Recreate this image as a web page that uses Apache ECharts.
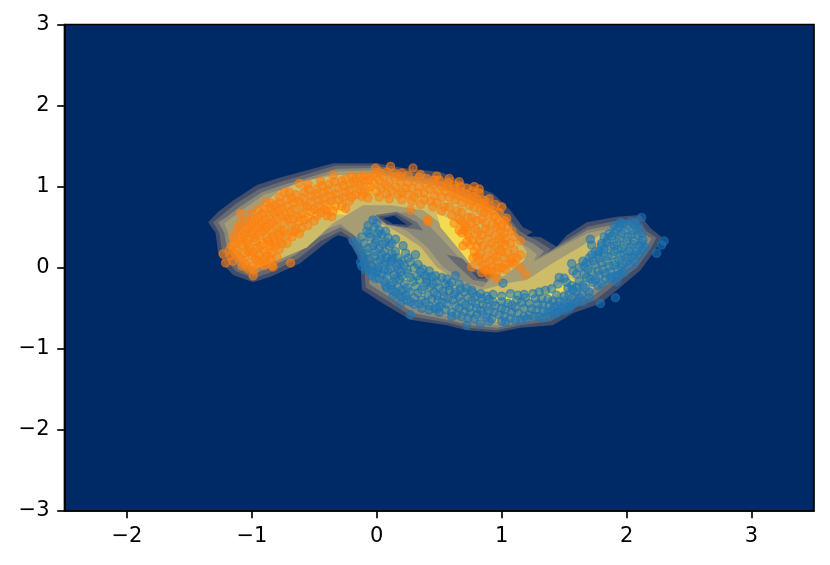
<!DOCTYPE html>
<html><head><meta charset="utf-8">
<script src="https://cdn.jsdelivr.net/npm/echarts@6/dist/echarts.min.js"></script>
<style>html,body{margin:0;padding:0;background:#fff}#c{width:830px;height:565px}</style></head>
<body><div id="c"></div>
<script>
const xTicks=[-2,-1,0,1,2,3];
const yTicks=[-3,-2,-1,0,1,2,3];
const level1=[[-1.35,.56],[-1.27,.69],[-1.15,.83],[-.96,1.02],[-.78,1.11],[-.61,1.18],[-.35,1.29],[0,1.29],[.21,1.23],[.51,1.18],[.75,1.02],[.93,.92],[1.07,.71],[1.17,.5],[1.25,.44],[1.19,.39],[1.31,.38],[1.44,.26],[1.41,.21],[1.52,.4],[1.68,.56],[1.92,.63],[2.11,.65],[2.19,.49],[2.28,.38],[2.23,.22],[2.11,-.03],[1.95,-.24],[1.79,-.44],[1.57,-.56],[1.41,-.71],[1.15,-.74],[.96,-.8],[.72,-.77],[.56,-.71],[.27,-.64],[.05,-.44],[-.12,-.27],[-.13,.07],[-.24,.37],[-.31,.4],[-.35,.37],[-.43,.28],[-.61,.06],[-.85,-.11],[-.99,-.18],[-1.15,-.09],[-1.21,.01],[-1.27,.18],[-1.29,.43]];
const level2=[[-1.31,.56],[-1.24,.65],[-1.13,.79],[-.94,.97],[-.75,1.07],[-.59,1.14],[-.33,1.26],[0,1.26],[.2,1.19],[.49,1.13],[.72,.97],[.9,.87],[1.03,.67],[1.14,.46],[1.21,.39],[1.28,.34],[1.39,.23],[1.35,.16],[1.51,.34],[1.69,.51],[1.92,.58],[2.08,.6],[2.16,.45],[2.24,.37],[2.19,.23],[2.08,0],[1.91,-.2],[1.75,-.4],[1.55,-.51],[1.39,-.66],[1.15,-.71],[.96,-.77],[.73,-.74],[.58,-.68],[.28,-.6],[.08,-.4],[-.09,-.24],[-.1,.07],[-.21,.37],[-.29,.45],[-.45,.33],[-.63,.11],[-.87,-.07],[-.99,-.13],[-1.13,-.04],[-1.18,.05],[-1.24,.21],[-1.26,.43]];
const level3=[[-1.27,.56],[-1.2,.63],[-1.1,.75],[-.92,.93],[-.73,1.03],[-.57,1.1],[-.32,1.22],[0,1.23],[.19,1.15],[.47,1.09],[.7,.93],[.87,.82],[1,.63],[1.11,.43],[1.18,.35],[1.25,.3],[1.34,.2],[1.29,.12],[1.5,.3],[1.69,.47],[1.92,.54],[2.05,.56],[2.13,.42],[2.2,.36],[2.15,.23],[2.05,.03],[1.88,-.16],[1.72,-.36],[1.53,-.47],[1.37,-.62],[1.15,-.68],[.96,-.74],[.74,-.71],[.59,-.65],[.3,-.56],[.1,-.36],[-.06,-.2],[-.06,.07],[-.18,.4],[-.29,.5],[-.46,.38],[-.65,.16],[-.89,-.02],[-.99,-.08],[-1.1,0],[-1.14,.09],[-1.2,.24],[-1.22,.43]];
const level4=[[-1.22,.55],[-1.16,.62],[-1.07,.72],[-.9,.9],[-.71,.99],[-.55,1.07],[-.31,1.19],[0,1.2],[.18,1.11],[.45,1.05],[.68,.89],[.84,.78],[.97,.6],[1.08,.4],[1.16,.3],[1.22,.24],[1.28,.17],[1.26,.08],[1.48,.26],[1.69,.43],[1.92,.5],[2.02,.52],[2.1,.4],[2.15,.35],[2.11,.23],[2.02,.06],[1.85,-.12],[1.69,-.32],[1.51,-.43],[1.35,-.57],[1.15,-.65],[.96,-.71],[.75,-.67],[.6,-.61],[.32,-.51],[.13,-.32],[-.03,-.16],[-.02,.07],[-.15,.36],[-.29,.54],[-.48,.43],[-.67,.21],[-.91,.03],[-.99,-.04],[-1.08,.02],[-1.11,.12],[-1.17,.27],[-1.19,.43]];
const valley3=[[.03,.65],[.27,.69],[.4,.55],[.53,.34],[.69,.07],[.96,-.05],[.85,-.24],[.72,-.19],[.53,.01],[.4,.26],[.24,.46],[.11,.53],[-.08,.61]];
const valley2=[[.56,.16],[.68,.12],[.76,0],[.91,-.09],[.88,-.18],[.77,-.15],[.64,.03]];
const valley1=[[.76,-.05],[.85,-.07],[.88,-.13],[.81,-.14]];
const hole2=[[-.01,.65],[.16,.69],[.32,.56],[.37,.46],[.24,.49],[.08,.53]];
const hole1=[[.01,.63],[.16,.66],[.29,.54],[.24,.5],[.08,.54]];
const hole0=[[.05,.61],[.14,.64],[.24,.53],[.13,.54]];
const orangeLevel5=[[-1.18,.26],[-1.15,.34],[-.96,.72],[-.78,.95],[-.61,1.06],[-.35,1.14],[0,1.16],[.21,1.08],[.51,1.0],[.72,.85],[.95,.7],[1.07,.5],[1.12,.36],[1.2,.2],[1.18,.09],[1.01,-.11],[.77,0],[.59,.38],[.51,.55],[.37,.71],[.11,.77],[-.11,.77],[-.35,.55],[-.56,.25],[-.85,.06],[-.97,-.01],[-1.08,.05]];
const blueLevel5=[[-.14,.42],[-.03,.58],[.1,.5],[.21,.4],[.35,.26],[.48,.01],[.72,-.25],[.85,-.27],[1.04,-.19],[1.2,-.15],[1.41,.06],[1.63,.26],[1.81,.43],[1.97,.5],[2.02,.5],[2.09,.37],[2.07,.22],[1.95,0],[1.82,-.18],[1.67,-.3],[1.5,-.4],[1.33,-.53],[1.15,-.61],[.96,-.67],[.75,-.63],[.6,-.57],[.33,-.46],[.15,-.28],[0,-.14],[-.02,.05],[-.1,.22]];
const peakA=[[-.72,.4],[-.59,.38],[-.69,.37]];
const peakB=[[-.63,.61],[-.51,.71],[-.48,.65],[-.62,.56]];
const peakC=[[-.43,.77],[-.29,.8],[-.24,.65],[-.37,.67]];
const peakD=[[-.09,1.04],[-.03,1.11],[0,.93],[-.07,.9]];
const peakE=[[-.95,.37],[-.88,.18],[-.8,.22]];
const peakF=[[.48,.67],[.61,.59],[.74,.45],[.82,.22],[.75,.05],[.64,.26],[.51,.5]];
const peakG=[[.18,.24],[.25,.18],[.33,-.09],[.42,-.27],[.35,-.32],[.24,-.2],[.15,.01]];
const peakH=[[.9,-.36],[1.09,-.31],[1.36,-.29],[1.55,-.13],[1.6,-.17],[1.42,-.36],[1.09,-.42],[.92,-.42]];
const peakI=[[1.8,.15],[1.88,.25],[2.0,.36],[2.02,.28],[1.9,.04],[1.82,.04]];
const bluePoints=[[2.12,.62],[2.3,.33],[2.28,.28],[2.24,.18],[1.91,-.37],[1.79,-.44],[1.71,.35],[1.56,.05],[.72,-.71],[.83,-.69],[.27,-.58],[.19,-.44],[1.01,-.19],[-.19,.33],[-.13,.07],[-.03,.59],[.21,.27],[.31,.16],[.63,-.1],[.44,-.11],[-.01,-.13],[.13,-.35],[.48,-.51],[1.03,-.67],[1.33,-.62],
[-.08,.45],[-.02,.5],[.02,.46],[-.05,.38],[0,.35],[.04,.41],[.07,.32],[-.1,.3],[-.03,.27],[.02,.24],[.06,.2],[.1,.27],[-.14,.22],[-.08,.18],[-.02,.14],[.03,.1],[.08,.13],[.12,.17],[-.1,.08],[-.04,.03],[.01,0],[.06,.04],[.11,.07],[.16,.02],[.2,.08],[-.03,-.05],[.04,-.08],[.09,-.04],[.14,-.09],[.19,-.05],[.24,-.02],[.27,.07],[.06,-.17],[.13,-.18],[.18,-.14],[.22,-.2],[.27,-.12],[.32,-.1],[.37,-.02],[.2,-.28],[.26,-.3],[.31,-.23],[.36,-.27],[.4,-.18],[.45,-.2],[.3,-.37],[.36,-.4],[.41,-.34],[.46,-.3],[.5,-.25],[.55,-.2],[.42,-.47],[.49,-.4],[.54,-.35],[.58,-.28],[.63,-.3],[.5,-.48],[.56,-.45],[.61,-.4],[.66,-.36],[.7,-.3],[.6,-.55],[.66,-.5],[.71,-.46],[.76,-.41],[.8,-.35],[.68,-.6],[.75,-.56],[.8,-.5],[.85,-.45],[.9,-.39],[.78,-.63],[.85,-.58],[.9,-.53],[.95,-.47],[1,-.42],[.92,-.63],[.98,-.58],[1.03,-.52],[1.08,-.46],[1.12,-.4],[1.07,-.62],[1.13,-.56],[1.18,-.5],[1.22,-.44],[1.27,-.38],[1.15,-.64],[1.22,-.58],[1.28,-.52],[1.33,-.46],[1.37,-.39],[1.3,-.6],[1.37,-.55],[1.42,-.48],[1.46,-.42],[1.5,-.35],[1.43,-.57],[1.48,-.5],[1.53,-.44],[1.57,-.36],[1.6,-.3],[1.54,-.5],[1.6,-.42],[1.64,-.33],[1.67,-.25],[1.7,-.3],[1.56,-.22],[1.62,-.17],[1.68,-.12],[1.73,-.18],[1.77,-.22],[1.72,-.05],[1.78,-.1],[1.83,-.14],[1.66,.02],[1.75,.04],[1.81,-.02],[1.87,-.05],[1.92,-.1],[1.7,.12],[1.78,.12],[1.84,.08],[1.9,.03],[1.96,0],[1.75,.2],[1.82,.18],[1.88,.15],[1.94,.1],[2,.07],[1.8,.27],[1.87,.26],[1.93,.22],[1.98,.17],[2.04,.13],[2.08,.2],[1.85,.36],[1.92,.32],[1.98,.28],[2.03,.25],[2.1,.27],[1.9,.43],[1.96,.42],[2.01,.38],[2.06,.33],[1.94,.5],[2,.52],[2.05,.46],[2.09,.4],[2.03,.57],[1.72,.28],
[-.06,.42],[.01,.42],[-.01,.31],[.05,.29],[-.07,.24],[-.01,.2],[.04,.16],[-.12,.15],[-.06,.11],[0,.07],[.07,.08],[.13,.12],[-.07,-.02],[.01,-.03],[.06,-.02],[.11,-.01],[.17,-.02],[.22,.03],[.08,-.11],[.15,-.13],[.2,-.1],[.25,-.07],[.11,-.22],[.17,-.24],[.24,-.25],[.29,-.17],[.34,-.15],[.39,-.1],[.23,-.34],[.33,-.31],[.38,-.23],[.43,-.24],[.48,-.17],[.34,-.45],[.39,-.43],[.44,-.39],[.48,-.34],[.53,-.29],[.58,-.22],[.46,-.5],[.52,-.43],[.57,-.38],[.62,-.33],[.67,-.26],[.55,-.52],[.63,-.47],[.68,-.42],[.73,-.37],[.77,-.31],[.64,-.58],[.7,-.54],[.74,-.49],[.79,-.44],[.84,-.38],[.73,-.62],[.8,-.58],[.83,-.53],[.88,-.48],[.93,-.42],[.88,-.61],[.94,-.55],[1,-.5],[1.05,-.44],[1.02,-.6],[1.08,-.55],[1.11,-.49],[1.16,-.43],[1.19,-.37],[1.11,-.65],[1.18,-.6],[1.24,-.51],[1.29,-.45],[1.32,-.38],[1.26,-.6],[1.33,-.53],[1.38,-.46],[1.41,-.41],[1.44,-.34],[1.4,-.53],[1.45,-.47],[1.5,-.41],[1.54,-.33],[1.57,-.27],[1.5,-.53],[1.57,-.45],[1.62,-.37],[1.65,-.22],[1.6,-.24],[1.53,-.25],[1.66,-.08],[1.71,-.14],[1.75,-.15],[1.8,-.2],[1.69,-.02],[1.77,-.04],[1.83,-.07],[1.88,-.11],[1.73,.08],[1.8,.06],[1.86,.02],[1.93,-.03],[1.77,.16],[1.85,.14],[1.91,.07],[1.97,.05],[1.82,.23],[1.9,.2],[1.95,.16],[2.01,.13],[1.84,.31],[1.9,.27],[1.96,.24],[2.02,.2],[2.06,.16],[1.88,.39],[1.94,.36],[2,.33],[2.05,.29],[1.92,.47],[1.98,.46],[2.04,.41],[1.97,.55],[2.07,.52],
[2.12,.3],[2.15,.25],[2.1,.16],[2.13,.34],[2.07,.07],[2.03,.03],[1.98,-.06],[1.92,-.17],[1.87,-.13],[1.95,-.08],[2.12,.42],[2.1,.5],[2.07,.57],[2.13,.22],[1.78,.2],[1.72,.16],[1.68,.06],[1.62,0],[1.57,-.04],[1.5,-.13],[1.45,-.2],[1.4,-.26],[1.8,.3],[1.86,.42],[1.82,.38],[1.9,.52],[1.95,.56],[1.65,.08],[1.6,-.08],[1.52,-.18],[1.46,-.12],[1.35,-.28],[1.3,-.3],[1.25,-.32],[1.18,-.33],[1.13,-.34],[1.07,-.32],[1,-.35],[.93,-.33],[.88,-.35],[.83,-.32],[1.2,-.63],[1,-.66],[.9,-.66],[.6,-.6],[.5,-.55],[.42,-.52],[.36,-.5],[.3,-.45],[.24,-.4],[.18,-.33],[.12,-.27],[.07,-.22],[1.38,-.6],[1.45,-.55],[1.55,-.48],[1.65,-.42],[1.7,-.37],[.3,0],[.33,.04],[.25,.12],[.35,-.05],[.42,-.04],[.47,-.1],[.52,-.12],[.4,-.13],[.56,-.14],[.6,-.18],[.66,-.2],[.72,-.25],[.76,-.28],[.15,.2],[.17,.12],[.23,.18],[.12,.3],[.09,.37],[.15,.35],[.07,.45],[-.07,.52],[0,.55],[-.12,.38],[-.16,.28],[-.12,.02],[-.09,-.03],[-.04,-.1],[.02,-.14],[0,-.05],[.08,-.25],[.15,-.3],[.2,-.36],[.27,-.42],[.12,.1],[.18,.05]];
const orangePoints=[[-1.23,.17],[-1.21,.06],[-1.09,.67],[-1.11,.5],[-.99,-.1],[-.84,.03],[-.83,.01],[-.8,.13],[-.69,.06],[-.6,.49],[-.89,.81],[-.74,.93],[-.62,1.04],[-.35,1.14],[-.01,1.23],[.11,1.25],[.29,1.23],[-.4,.7],[-.36,.63],[-.25,.73],[.41,.59],[.27,.71],[.76,.01],[.96,-.13],[1.19,-.08],[1.15,0],[1.15,.33],[1.15,.16],[.69,.27],[.66,.46],[.41,.57],[.86,.83],[1,.75],[1.04,.61],[.88,-.03],[1.08,.07],
[-1.1,.12],[-1.05,.05],[-1,.02],[-.95,.08],[-1.12,.22],[-1.06,.18],[-1,.14],[-.94,.16],[-.9,.1],[-1.14,.3],[-1.08,.28],[-1.02,.25],[-.96,.24],[-.9,.2],[-1.09,.38],[-1.03,.35],[-.97,.33],[-.91,.3],[-.85,.28],[-1.05,.44],[-1,.42],[-.94,.4],[-.88,.37],[-.82,.33],[-1.02,.52],[-.96,.5],[-.9,.47],[-.84,.44],[-.78,.4],[-.98,.6],[-.92,.57],[-.86,.54],[-.8,.5],[-.74,.45],[-.92,.67],[-.86,.64],[-.8,.6],[-.74,.56],[-.68,.52],[-.85,.73],[-.79,.7],[-.73,.65],[-.67,.6],[-.62,.57],[-.78,.8],[-.72,.76],[-.66,.72],[-.6,.66],[-.55,.62],[-.68,.86],[-.62,.82],[-.56,.76],[-.5,.72],[-.45,.68],[-.58,.93],[-.52,.88],[-.46,.83],[-.4,.78],[-.48,.97],[-.42,.93],[-.36,.88],[-.3,.84],[-.38,1.03],[-.31,.98],[-.25,.93],[-.2,.87],[-.28,1.07],[-.21,1.03],[-.15,.97],[-.1,.92],[-.17,1.1],[-.1,1.06],[-.05,1],[0,.94],[-.05,1.12],[.02,1.08],[.07,1.02],[.12,.95],[.08,1.18],[.14,1.12],[.19,1.05],[.23,.98],[.17,.9],[.25,1.14],[.3,1.07],[.34,1],[.38,.92],[.3,.87],[.4,1.1],[.45,1.02],[.49,.95],[.52,.87],[.43,.82],[.5,1.08],[.56,1],[.6,.92],[.63,.84],[.54,.75],[.62,1.02],[.67,.94],[.71,.86],[.74,.77],[.64,.7],[.72,.98],[.77,.88],[.81,.8],[.83,.7],[.73,.62],[.82,.92],[.87,.75],[.9,.65],[.8,.58],[.72,.5],[.93,.7],[.97,.58],[.87,.55],[.79,.48],[.73,.42],[.96,.5],[.9,.44],[.84,.4],[.77,.34],[1.02,.42],[.98,.36],[.92,.3],[.85,.27],[.78,.2],[1.03,.28],[.98,.22],[.93,.16],[.87,.12],[.82,.08],[1.02,.12],[.97,.07],[.92,.02],[.86,-.02],[1,0],
[-1.13,.17],[-1.07,.09],[-1.03,.2],[-.97,.11],[-.93,.05],[-1.16,.27],[-1.1,.33],[-1.04,.3],[-.99,.19],[-.88,.14],[-1.06,.4],[-1.12,.44],[-.98,.37],[-.93,.27],[-.86,.23],[-1.04,.48],[-.99,.46],[-.92,.44],[-.87,.33],[-.81,.27],[-1,.56],[-.94,.53],[-.88,.5],[-.83,.39],[-.77,.35],[-.95,.62],[-.89,.6],[-.83,.56],[-.77,.46],[-.71,.41],[-.9,.72],[-.83,.68],[-.77,.64],[-.71,.6],[-.65,.48],[-.82,.77],[-.76,.74],[-.69,.69],[-.63,.63],[-.58,.59],[-.72,.84],[-.66,.8],[-.59,.75],[-.53,.69],[-.48,.64],[-.65,.9],[-.59,.86],[-.53,.81],[-.47,.76],[-.42,.72],[-.55,.97],[-.49,.91],[-.43,.86],[-.37,.82],[-.33,.76],[-.44,1.01],[-.39,.96],[-.33,.91],[-.27,.87],[-.34,1.06],[-.27,1.01],[-.22,.96],[-.17,.9],[-.25,1.1],[-.18,1.06],[-.13,1.01],[-.07,.95],[-.12,.88],[-.13,1.12],[-.07,1.08],[-.02,1.04],[.04,.98],[.08,.91],[-.02,1.15],[.05,1.12],[.1,1.06],[.15,1],[.2,.93],[.14,1.17],[.19,1.12],[.25,1.05],[.28,.98],[.33,.92],[.25,.9],[.34,1.12],[.39,1.03],[.42,.97],[.46,.89],[.38,.84],[.46,1.08],[.52,1.01],[.55,.94],[.58,.87],[.48,.8],[.57,1.05],[.62,.97],[.65,.89],[.68,.8],[.58,.75],[.67,1],[.71,.91],[.75,.83],[.78,.74],[.68,.68],[.76,.94],[.8,.85],[.85,.8],[.86,.68],[.76,.62],[.68,.57],[.9,.74],[.94,.63],[.84,.6],[.76,.54],[.7,.46],[.93,.54],[.87,.48],[.81,.44],[.74,.38],[.99,.46],[.95,.4],[.89,.36],[.82,.33],[.75,.28],[1,.32],[.95,.27],[.89,.23],[.83,.17],[1,.2],[.95,.13],[.9,.08],[.84,.03],[.97,0],[.92,-.04],[1.05,.18],[1.04,.04],[.8,.14],
[1.08,.45],[1.05,.5],[1.07,.3],[1.1,.22],[1.08,.12],[1.02,.58],[.98,.68],[.95,.78],[.9,.85],[.82,.97],[.78,1],[1.1,.05],[1.03,-.02],[.96,-.06],[.9,-.09],[1.12,.12],[1.1,.38],[1,.52],[1.03,.36],[.6,.65],[.62,.55],[.52,.7],[.45,.75],[.35,.78],[.28,.82],[.2,.84],[.1,.85],[.02,.87],[-.07,.86],[.68,.43],[.72,.32],[.8,.26],[.77,.12],[.84,-.06],[.66,.6],[.7,.53],[-.22,.82],[-.28,.76],[-.35,.7],[-.4,.64],[-.5,.58],[-.55,.52],[-.62,.42],[-.68,.38],[-.72,.3],[-.78,.23],[-.84,.18],[-.9,.03],[-1.03,-.02],[-1.08,.02],[-.98,-.03],[-.85,.1],[-.76,.3],[-.66,.44],[-1.17,.15],[-1.15,.08],[-1.18,.22],[-1.15,.38],[-1.09,.55],[-1.05,.58],[-1,.67],[-.95,.72],[-.85,.8],[-.78,.87],[-.7,.93],[-.55,1.03],[-.45,1.07],[-.2,1.13],[-.1,1.14],[.2,1.17],[.35,1.15],[.48,1.13],[.58,1.1],[.66,1.06],[.02,1.18]];
const contourLayers=[
 {points:level1,color:'#414d6b'},{points:level2,color:'#666970'},{points:level3,color:'#8a8878'},{points:level4,color:'#a69d75'},
 {points:valley3,color:'#8a8878'},{points:valley2,color:'#666970'},{points:valley1,color:'#414d6b'},
 {points:hole2,color:'#666970'},{points:hole1,color:'#414d6b'},{points:hole0,color:'#002a66'},
 {points:orangeLevel5,color:'#cdbc68'},{points:blueLevel5,color:'#cdbc68'},
 {points:peakA,color:'#f2db4f'},{points:peakB,color:'#f2db4f'},{points:peakC,color:'#f2db4f'},{points:peakD,color:'#f2db4f'},{points:peakE,color:'#f2db4f'},{points:peakF,color:'#f2db4f'},{points:peakG,color:'#f2db4f'},{points:peakH,color:'#f2db4f'},{points:peakI,color:'#f2db4f'}
];
const tickFmt=v=>String(v).replace('-','\u2212');
const axisBase=(ticks)=>({
 splitLine:{show:false},
 axisLine:{show:true,onZero:false,lineStyle:{color:'#000',width:1.67}},
 axisTick:{show:true,length:7.3,lineStyle:{color:'#000',width:1.67},customValues:ticks},
 axisLabel:{color:'#000',fontFamily:'DejaVu Sans',fontSize:21,margin:15,formatter:tickFmt,customValues:ticks}
});
const chart=echarts.init(document.getElementById('c'),null,{renderer:'canvas'});
chart.setOption({
 animation:false,
 backgroundColor:'#fff',
 grid:{left:64.5,right:16,top:24.5,bottom:54,show:true,backgroundColor:'#002a66',borderColor:'#000',borderWidth:1.67},
 xAxis:Object.assign({type:'value',min:-2.5,max:3.5},axisBase(xTicks)),
 yAxis:Object.assign({type:'value',min:-3,max:3},axisBase(yTicks)),
 series:[
  {type:'custom',z:1,silent:true,clip:true,data:contourLayers.map((l,i)=>[i]),
   renderItem:(p,api)=>{const l=contourLayers[api.value(0)];
    return {type:'polygon',shape:{points:l.points.map(q=>api.coord(q))},style:{fill:l.color,stroke:null}};}},
  {type:'scatter',z:2,silent:true,data:bluePoints,symbolSize:8.2,itemStyle:{color:'#1f77b4',borderColor:'#1f77b4',borderWidth:1.3,opacity:.55}},
  {type:'scatter',z:3,silent:true,data:orangePoints,symbolSize:8.2,itemStyle:{color:'#ff7f0e',borderColor:'#ff7f0e',borderWidth:1.3,opacity:.55}}
 ]
});
</script></body></html>
